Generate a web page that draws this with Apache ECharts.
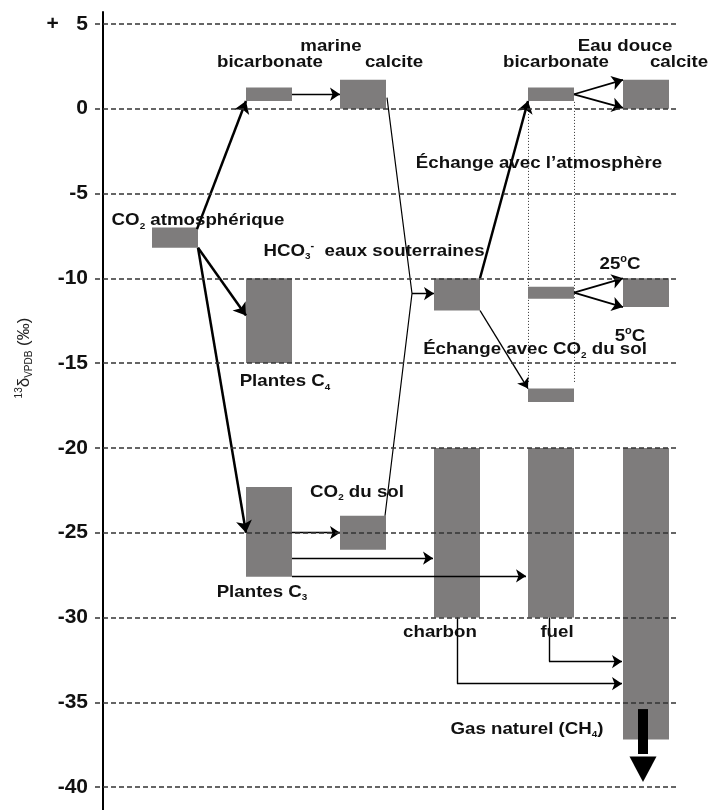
<!DOCTYPE html>
<html>
<head>
<meta charset="utf-8">
<script src="https://cdn.jsdelivr.net/npm/echarts@6/dist/echarts.min.js"></script>
<style>
html, body {margin:0; padding:0; background:#fff;}
#chart {width:710px; height:810px;}
</style>
</head>
<body>
<div id="chart"></div>
<script>
// y ticks (per mil)
var yTicks = [5, 0, -5, -10, -15, -20, -25, -30, -35, -40];

// columns of the diagram (x units, left edge) and box width
var colLeft = [57, 151, 245, 339, 433, 528];
var colWidth = 46;

// boxes : column, top value, bottom value
var boxCol = [0, 1, 2, 4, 5, 1, 3, 4, 5, 4, 1, 2, 3, 4, 5];
var boxTop = [-7.0, 1.25, 1.7, 1.25, 1.7, -10, -10, -10.5, -10, -16.5, -22.3, -24, -20, -20, -20];
var boxBot = [-8.2, 0.45, 0, 0.45, 0, -15, -11.9, -11.2, -11.7, -17.3, -27.6, -26, -30, -30, -37.2];

// arrows [x1, y1, x2, y2]
var thickArrows = [
    [102, -7.1, 151, 0.45],
    [103, -8.2, 151, -12.2],
    [103, -8.2, 151, -25.0],
    [385, -10.0, 433, 0.45]
];
var mediumArrows = [
    [479, 0.85, 528, 1.7],
    [479, 0.85, 528, 0.05],
    [479, -10.85, 528, -10.0],
    [479, -10.85, 528, -11.7]
];
var thinArrows = [
    [197, 0.85, 245, 0.85],
    [197, -25.0, 245, -25.0],
    [197, -26.5, 338, -26.5],
    [197, -27.55, 431, -27.55],
    [385, -11.9, 433, -16.5],
    [317, -10.9, 339, -10.9],
    [454, -32.6, 527, -32.6],
    [362, -33.9, 527, -33.9]
];
var plainSegments = [
    [454, -30, 454, -32.6],
    [362, -30, 362, -33.9]
];
var plainPath = [[292, 0.65], [317, -10.9], [290, -24.0]];
var dottedLines = [
    [433, 0.4, 433, -16.2],
    [479, 0.4, 479, -16.2]
];
// big downward arrow: x, shaft top, shaft bottom, head back, tip
var bigArrow = [548, -35.4, -38.05, -38.2, -39.7];

// labels
var labelX = [236, 175, 299, 530, 461, 584, 444, 103, 279, 525, 535, 440, 190, 262, 167, 345, 462, 432];
var labelY = [3.65, 2.76, 2.76, 3.65, 2.76, 2.76, -3.24, -6.6, -8.4, -9.2, -13.4, -14.2, -16.1, -22.6, -28.5, -30.9, -30.9, -36.6];
var labelText = [
    'marine',
    'bicarbonate',
    'calcite',
    'Eau douce',
    'bicarbonate',
    'calcite',
    'Échange avec l’atmosphère',
    '{b|CO}{s|2}{b| atmosphérique}',
    '{b|HCO}{s|3}{u|-}{b|  eaux souterraines}',
    '{b|25}{u|o}{b|C}',
    '{b|5}{u|o}{b|C}',
    '{b|Échange avec CO}{s|2}{b| du sol}',
    '{b|Plantes C}{s|4}',
    '{b|CO}{s|2}{b| du sol}',
    '{b|Plantes C}{s|3}',
    'charbon',
    'fuel',
    '{b|Gas naturel (CH}{s|4}{b|)}'
];

var FONT = 'Liberation Sans, Arial, sans-serif';
var richStyles = {
    b: {fontSize: 17, fontWeight: 'bold', fontFamily: FONT, fill: '#111', lineHeight: 20},
    s: {fontSize: 9, fontWeight: 'bold', fontFamily: FONT, fill: '#111', verticalAlign: 'bottom', lineHeight: 20},
    u: {fontSize: 10, fontWeight: 'bold', fontFamily: FONT, fill: '#111', verticalAlign: 'top', lineHeight: 20}
};

function segData(arr) {
    return arr.map(function (a) {
        return {coords: [[a[0], a[1]], [a[2], a[3]]]};
    });
}

function arrowSeries(arr, width, size, z) {
    return {
        type: 'lines',
        coordinateSystem: 'cartesian2d',
        z: z || 4,
        silent: true,
        symbol: ['none', 'arrow'],
        symbolSize: size,
        lineStyle: {color: '#000', width: width, opacity: 1},
        data: segData(arr)
    };
}

var myChart = echarts.init(document.getElementById('chart'));
var option = {
    animation: false,
    grid: {left: 95, right: 0, top: 12, bottom: 0},
    xAxis: {type: 'value', min: 0, max: 615, show: false},
    yAxis: {
        type: 'value',
        min: -41.35,
        max: 5.7,
        offset: -8,
        axisLine: {show: true, lineStyle: {color: '#000', width: 2}},
        axisTick: {show: false},
        splitLine: {show: false},
        axisLabel: {
            customValues: yTicks,
            margin: 15,
            color: '#111',
            fontSize: 21,
            fontWeight: 'bold',
            fontFamily: FONT,
            formatter: function (v) {
                return v === 5 ? '+   5' : String(v);
            }
        }
    },
    graphic: [{
        type: 'text',
        x: 24,
        y: 358,
        rotation: Math.PI / 2,
        style: {
            text: '{p|13}{d|δ}{q|VPDB}{d| (‰)}',
            align: 'center',
            verticalAlign: 'middle',
            fill: '#222',
            rich: {
                p: {fontSize: 10, fontFamily: FONT, fill: '#222', verticalAlign: 'top', lineHeight: 20},
                d: {fontSize: 17, fontFamily: FONT, fill: '#222', lineHeight: 20},
                q: {fontSize: 10, fontFamily: FONT, fill: '#222', verticalAlign: 'bottom', lineHeight: 20}
            }
        }
    }],
    series: [
        {
            // dashed grid lines
            type: 'line',
            data: [],
            z: 1,
            silent: true,
            markLine: {
                symbol: 'none',
                silent: true,
                label: {show: false},
                lineStyle: {color: '#333', width: 1.5, type: [5, 3]},
                data: yTicks.map(function (v) {
                    return [{coord: [0, v]}, {coord: [582, v]}];
                })
            }
        },
        {
            type: 'lines',
            coordinateSystem: 'cartesian2d',
            z: 2,
            silent: true,
            lineStyle: {color: '#333', width: 1, type: [1, 2], opacity: 1},
            data: segData(dottedLines)
        },
        {
            type: 'custom',
            z: 3,
            silent: true,
            data: boxCol.map(function (c, i) { return [c, boxTop[i], boxBot[i]]; }),
            renderItem: function (params, api) {
                var c = api.value(0);
                var p1 = api.coord([colLeft[c], api.value(1)]);
                var p2 = api.coord([colLeft[c] + colWidth, api.value(2)]);
                return {
                    type: 'rect',
                    shape: {x: p1[0], y: p1[1], width: p2[0] - p1[0], height: p2[1] - p1[1]},
                    style: {fill: '#7e7c7c'}
                };
            }
        },
        arrowSeries(thickArrows, 2.5, [7, 12]),
        arrowSeries(mediumArrows, 1.8, [6, 11]),
        arrowSeries(thinArrows, 1.4, [5.5, 10]),
        {
            type: 'lines',
            coordinateSystem: 'cartesian2d',
            z: 4,
            silent: true,
            symbol: 'none',
            lineStyle: {color: '#000', width: 1.4, opacity: 1},
            data: segData(plainSegments)
        },
        {
            type: 'lines',
            coordinateSystem: 'cartesian2d',
            polyline: true,
            z: 4,
            silent: true,
            symbol: 'none',
            lineStyle: {color: '#000', width: 1.2, opacity: 1},
            data: [{coords: plainPath}]
        },
        {
            type: 'custom',
            z: 5,
            silent: true,
            data: [bigArrow],
            renderItem: function (params, api) {
                var top = api.coord([api.value(0), api.value(1)]);
                var shaftEnd = api.coord([api.value(0), api.value(2)]);
                var back = api.coord([api.value(0), api.value(3)]);
                var tip = api.coord([api.value(0), api.value(4)]);
                return {
                    type: 'group',
                    children: [{
                        type: 'rect',
                        shape: {x: top[0] - 5, y: top[1], width: 10, height: shaftEnd[1] - top[1]},
                        style: {fill: '#000'}
                    }, {
                        type: 'polygon',
                        shape: {points: [[back[0] - 13.5, back[1]], [back[0] + 13.5, back[1]], [tip[0], tip[1]]]},
                        style: {fill: '#000'}
                    }]
                };
            }
        },
        {
            type: 'custom',
            z: 6,
            silent: true,
            data: labelX.map(function (x, i) { return [x, labelY[i]]; }),
            renderItem: function (params, api) {
                var p = api.coord([api.value(0), api.value(1)]);
                var t = labelText[params.dataIndex];
                if (t.indexOf('{') < 0) {
                    t = '{b|' + t + '}';
                }
                return {
                    type: 'text',
                    x: p[0],
                    y: p[1],
                    scaleX: 1.1,
                    style: {
                        text: t,
                        rich: richStyles,
                        fill: '#111',
                        align: 'center',
                        verticalAlign: 'middle'
                    }
                };
            }
        }
    ]
};
myChart.setOption(option);
</script>
</body>
</html>
